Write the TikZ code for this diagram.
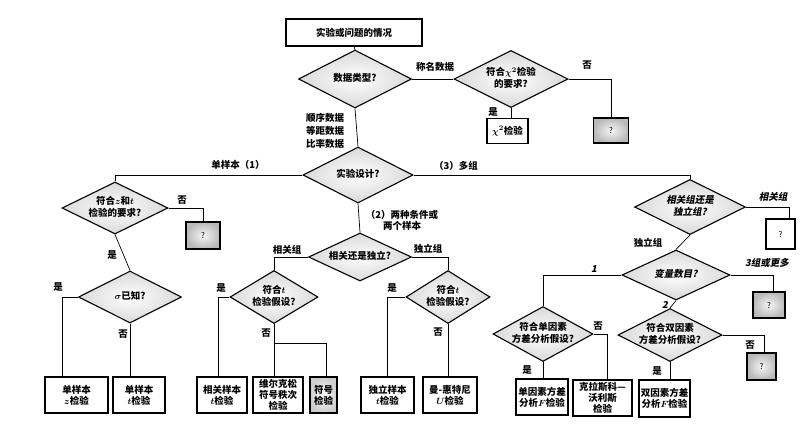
\documentclass[tikz,border=0pt]{standalone}
\usepackage{fontspec}
\setmainfont{Noto Sans CJK SC}
\newfontfamily\slcjk{Noto Sans CJK SC}[FakeSlant=0.2]
\usetikzlibrary{shapes.geometric}
\newcommand{\dtx}[1]{\smash{\makebox[0pt]{\raisebox{-0.25em}{\begin{tabular}{@{}c@{}}#1\end{tabular}}}}}
\tikzset{
  dia/.style n args={2}{shape=diamond, draw, line width=1.1pt, inner sep=0pt,
    minimum width=#1, minimum height=#2, inner color=white, outer color=gray!30},
  box/.style n args={2}{draw, line width=1.2pt, minimum width=#1, minimum height=#2,
    inner sep=0pt, align=center, fill=white},
  qbox/.style n args={2}{draw, line width=1.2pt, minimum width=#1, minimum height=#2,
    inner sep=0pt, inner color=gray!8, outer color=gray!55, font=\fontsize{8}{9}\selectfont},
  wbox/.style n args={2}{draw, line width=1.2pt, minimum width=#1, minimum height=#2,
    inner sep=0pt, fill=white, font=\fontsize{8}{9}\selectfont},
  conn/.style={line width=0.7pt},
  lab/.style={inner sep=0pt, align=center},
  slab/.style={inner sep=0pt, align=center, font=\fontsize{9.5}{11}\selectfont\slcjk\bfseries}
}
\begin{document}
\begin{tikzpicture}[x=1pt,y=-1pt,font=\fontsize{9.5}{11}\selectfont\bfseries\boldmath]
\useasboundingbox (0,0) rectangle (800,432);
% top part
\node[box={136pt}{27pt}] (top) at (354,32.5) {实验或问题的情况};
\node[dia={113pt}{58pt}] (d1) at (355,79) {\dtx{数据类型?}};
\node[dia={114pt}{57pt}] (d2) at (511,79) {\dtx{符合$\chi^2$检验\\的要求?}};
\node[box={41pt}{25pt}] (bchi) at (507.5,131) {$\chi^2$检验};
\node[qbox={35pt}{25pt}] (q1) at (611,130.5) {?};
\node[dia={110pt}{56pt}] (d3) at (358,175) {\dtx{实验设计?}};
% single sample branch
\node[dia={106pt}{52pt}] (d4) at (115,208) {\dtx{符合$z$和$t$\\检验的要求?}};
\node[qbox={34pt}{27pt}] (q2) at (203,235.5) {?};
\node[dia={103pt}{52pt}] (d5) at (130,297) {\dtx{$\sigma$已知?}};
\node[box={63pt}{36pt}] (b1) at (76.5,395) {单样本\\$z$检验};
\node[box={52pt}{36pt}] (b2) at (139,395) {单样本\\$t$检验};
% two conditions branch
\node[dia={103pt}{48pt}] (d6) at (360,257) {\dtx{相关还是独立?}};
\node[dia={88pt}{53pt}] (d7) at (274,297) {\dtx{符合$t$\\检验假设?}};
\node[box={50pt}{36pt}] (b3) at (222,395) {相关样本\\$t$检验};
\node[box={50pt}{36pt}] (b4) at (278,395) {维尔克松\\符号秩次\\检验};
\node[box={27pt}{36pt}, fill=none, inner color=white, outer color=gray!40] (b5) at (323.5,395) {符号\\检验};
\node[dia={84pt}{53pt}] (d8) at (448,297) {\dtx{符合$t$\\检验假设?}};
\node[box={53pt}{36pt}] (b6) at (387.5,395) {独立样本\\$t$检验};
\node[box={54pt}{36pt}] (b7) at (450,395) {曼-惠特尼\\$U$检验};
% multi-group branch
\node[dia={111pt}{55pt}] (d9) at (690,207) {\dtx{\slcjk 相关组还是\\\slcjk 独立组?}};
\node[wbox={29pt}{30pt}] (q3) at (780.5,234) {?};
\node[dia={108pt}{50pt}] (d10) at (676,275) {\dtx{\slcjk 变量数目?}};
\node[qbox={32pt}{26pt}] (q4) at (769,305) {?};
\node[dia={100pt}{55pt}] (d11) at (543,334) {\dtx{符合单因素\\方差分析假设?}};
\node[box={52pt}{36pt}] (b8) at (542,397) {单因素方差\\分析$F$检验};
\node[box={59pt}{36pt}] (b9) at (602.5,398) {克拉斯科—\\沃利斯\\检验};
\node[dia={104pt}{53pt}] (d12) at (670,335) {\dtx{符合双因素\\方差分析假设?}};
\node[qbox={29pt}{27pt}] (q5) at (761.5,366.5) {?};
\node[box={51pt}{37pt}] (b10) at (664.5,398.5) {双因素方差\\分析$F$检验};
% connectors
\draw[conn] (top.south) -- (d1.north);
\draw[conn] (d1.east) -- (d2.west);
\draw[conn] (d2.south) -- (d2.south |- bchi.north);
\draw[conn] (d2.east) -| (q1.north);
\draw[conn] (d1.south) -- (d3.north);
\draw[conn] (d3.west) -| (d4.north);
\draw[conn] (d3.east) -| (d9.north);
\draw[conn] (d3.south) -- (d6.north);
\draw[conn] (d4.east) -| (q2.north);
\draw[conn] (d4.south) -- (d5.north);
\draw[conn] (d5.west) -| ([xshift=-14pt]b1.north);
\draw[conn] (d5.south) -- (d5.south |- b2.north);
\draw[conn] (d6.west) -| (d7.north);
\draw[conn] (d6.east) -| (d8.north);
\draw[conn] (d7.west) -| ([xshift=-4pt]b3.north);
\draw[conn] (d7.south) -- (d7.south |- b4.north);
\coordinate (j1) at (274,343);
\draw[conn] (j1) -| ([xshift=3pt]b5.north);
\draw[conn] (d8.west) -| (b6.north);
\draw[conn] (d8.south) -- (d8.south |- b7.north);
\draw[conn] (d9.east) -| ([xshift=9pt]q3.north);
\draw[conn] (d9.south) -- (d10.north);
\draw[conn] (d10.west) -| (d11.north);
\draw[conn] (d10.east) -| ([xshift=4pt]q4.north);
\draw[conn] (d10.south) -- (d12.north);
\draw[conn] (d11.east) -| ([xshift=5pt]b9.north);
\draw[conn] (d11.south) -- (d11.south |- b8.north);
\draw[conn] (d12.east) -| ([xshift=3pt]q5.north);
\draw[conn] (d12.south) -- (d12.south |- b10.north);
% labels
\node[lab] (l1) at (435,67) {称名数据};
\node[lab] (l2) at (493,112) {是};
\node[lab] (l3) at (587,65) {否};
\node[lab, font=\fontsize{9.5}{13}\selectfont\bfseries] (l4) at (325,131) {顺序数据\\等距数据\\比率数据};
\node[lab] (l5) at (238,165) {单样本（1）};
\node[lab] (l6) at (456,166) {（3）多组};
\node[lab] (l7) at (402,220) {（2）两种条件或\\两个样本};
\node[lab] (l8) at (182,200) {否};
\node[lab] (l9) at (112,255) {是};
\node[lab] (l10) at (58,287) {是};
\node[lab] (l11) at (123,334) {否};
\node[lab] (l12) at (287,250) {相关组};
\node[lab] (l13) at (428,249) {独立组};
\node[lab] (l14) at (221,288) {是};
\node[lab] (l15) at (266,333) {否};
\node[lab] (l16) at (392,288) {是};
\node[lab] (l17) at (438,332) {否};
\node[slab] (l18) at (773,197) {相关组};
\node[lab] (l19) at (648,243) {独立组};
\node[slab] (l20) at (594,269) {1};
\node[slab] (l21) at (767,263) {3组或更多};
\node[slab] (l22) at (665,305) {2};
\node[lab] (l23) at (598,326) {否};
\node[lab] (l24) at (527,370) {是};
\node[lab] (l25) at (750,345) {否};
\node[lab] (l26) at (657,371) {是};
\end{tikzpicture}
\end{document}
